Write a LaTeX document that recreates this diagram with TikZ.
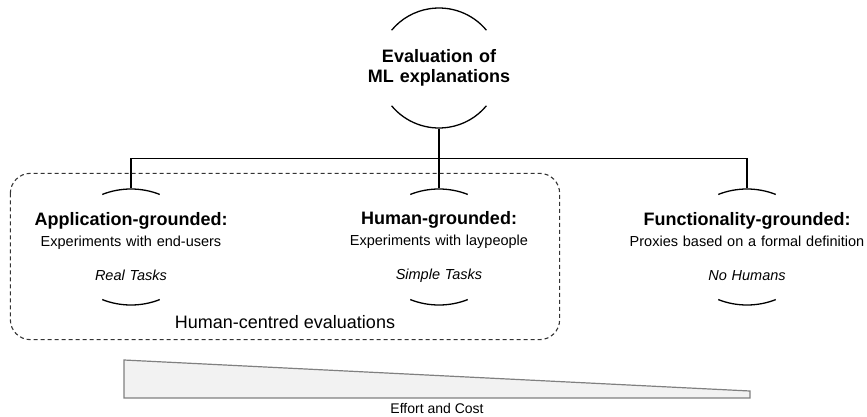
\documentclass[tikz,border=0pt]{standalone}
\usepackage{fontspec}
\setmainfont{Liberation Sans}
\usetikzlibrary{matrix,calc}

\tikzset{
  rootnode/.style={minimum height=120pt, font=\bfseries\fontsize{18}{20}\selectfont},
  groupbox/.style={draw=black!80, line width=1.1pt, dash pattern=on 4pt off 3pt, rounded corners=20pt},
  wedge/.style={draw=black!50, fill=black!5, line width=1.2pt}
}

\begin{document}
\begin{tikzpicture}[x=1pt, y=1pt, line width=1.3pt,
  elbow/.style={to path={-| (\tikztotarget)}}]
\useasboundingbox (0,0) rectangle (867,-416);
\matrix (m) [matrix of nodes, row sep=61pt, column sep=68pt,
  nodes={anchor=center, inner sep=0pt, align=center, text width=240pt,
         minimum height=116pt, font=\fontsize{14.5}{17}\selectfont}]
  at (439,-156.5)
{
	& |[rootnode]| {Evaluation of\\ML explanations} & \\
	{{\bfseries\fontsize{18}{21}\selectfont Application-grounded:}\\[4pt]
	 Experiments with end-users\\[17pt] \textit{Real Tasks}}
	& {{\bfseries\fontsize{18}{21}\selectfont Human-grounded:}\\[4pt]
	 Experiments with laypeople\\[17pt] \textit{Simple Tasks}}
	& {{\bfseries\fontsize{18}{21}\selectfont Functionality-grounded:}\\[4pt]
	 Proxies based on a formal definition\\[17pt] \textit{No Humans}} \\
};
% tree connectors
\coordinate (bus) at ([yshift=-30pt]m-1-2.south);
\path (m-1-2.south) edge (bus)
  (bus) edge[elbow] (m-2-1.north)
        edge (m-2-2.north)
        edge[elbow] (m-2-3.north);
% arcs round the nodes
\draw ([shift={(39:61pt and 60pt)}]m-1-2.center) arc[start angle=39, end angle=141, x radius=61pt, y radius=60pt];
\draw ([shift={(219:61pt and 60pt)}]m-1-2.center) arc[start angle=219, end angle=321, x radius=61pt, y radius=60pt];
\foreach \n in {m-2-1,m-2-2,m-2-3} {
  \draw ([shift={(65:68pt and 58pt)}]\n.center) arc[start angle=65, end angle=115, x radius=68pt, y radius=58pt];
  \draw ([shift={(245:68pt and 58pt)}]\n.center) arc[start angle=245, end angle=295, x radius=68pt, y radius=58pt];
}
% human-centred group
\coordinate (grp-nw) at ([yshift=15pt]m-2-1.north west);
\coordinate (grp-se) at ([yshift=-34pt]m-2-2.south east);
\draw[groupbox] (grp-nw) rectangle (grp-se);
\node[anchor=base, font=\fontsize{18}{20}\selectfont] (hc)
  at ($(grp-nw |- grp-se)!0.5!(grp-se) + (0,11pt)$) {Human-centred evaluations};
% effort and cost wedge
\draw[wedge] (124,-360) -- (750,-391) -- (750,-398) -- (124,-398) -- cycle;
\node[anchor=base, inner sep=0pt, font=\fontsize{14}{16}\selectfont] (cost) at (437,-413) {Effort and Cost};
\end{tikzpicture}
\end{document}
